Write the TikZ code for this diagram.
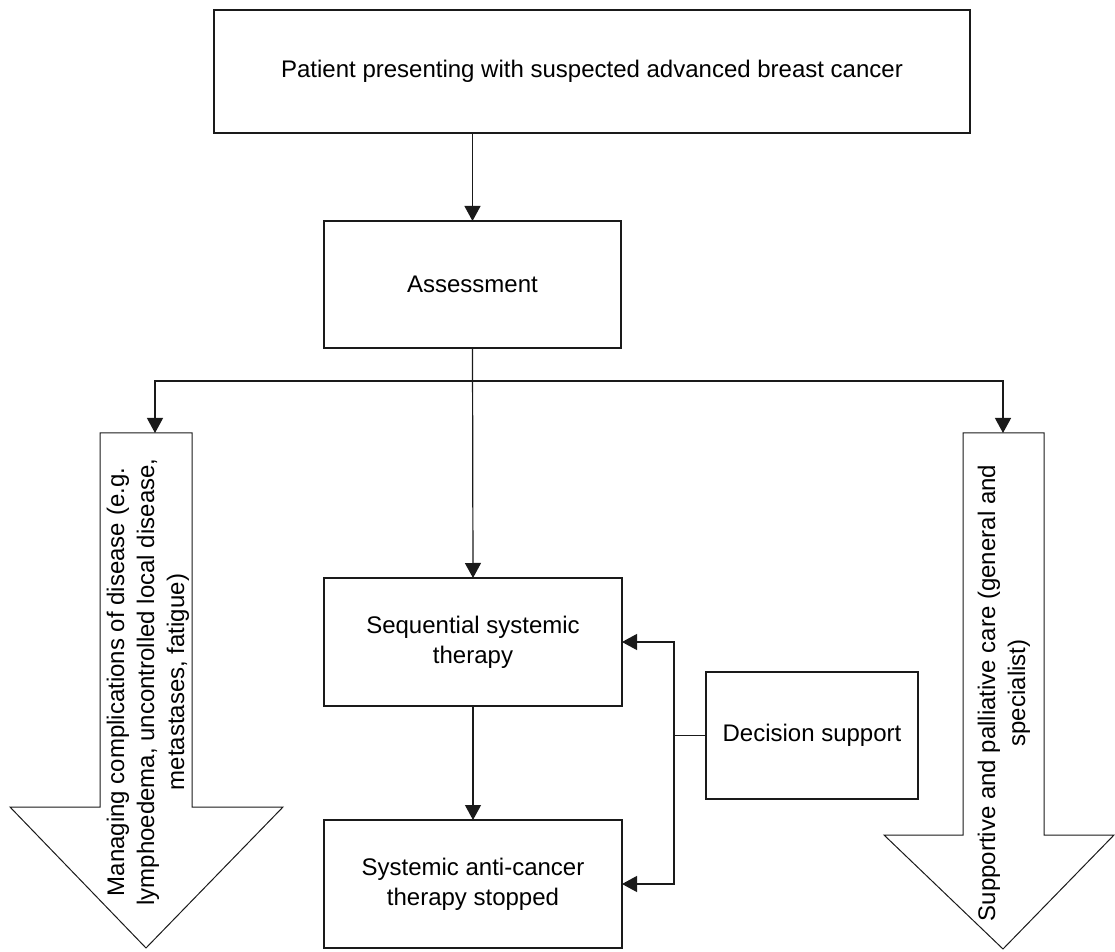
\documentclass[tikz,border=0pt]{standalone}
\usepackage{fontspec}
\setmainfont{Liberation Sans}
\usetikzlibrary{arrows.meta}
\definecolor{FlowInk}{HTML}{1A1A1A}

\begin{document}
\begin{tikzpicture}[x=0.5pt,y=-0.5pt,line width=0.6pt,draw=FlowInk,text=black,
    font=\fontsize{12}{15}\selectfont,
    stagebox/.style={draw,fill=white,inner sep=0pt,outer sep=0pt,align=center},
    flowarrow/.style={-{Triangle[length=7.5pt,width=8pt]}},
    blockarrow/.style={draw,fill=white,line width=0.5pt}]
  \useasboundingbox (0,0) rectangle (1115,952);
  % boxes
  \node[stagebox,minimum width=378pt,minimum height=61.5pt] (patient) at (592,71.5)
    {Patient presenting with suspected advanced breast cancer};
  \node[stagebox,minimum width=148.5pt,minimum height=63.5pt] (assess) at (472.5,284.5)
    {Assessment};
  \node[stagebox,minimum width=149pt,minimum height=64pt] (sequential) at (473,642)
    {Sequential systemic\\therapy};
  \node[stagebox,minimum width=149pt,minimum height=64pt] (stopped) at (473,884)
    {Systemic anti-cancer\\therapy stopped};
  \node[stagebox,minimum width=106pt,minimum height=63.5pt] (decision) at (812,735.5)
    {Decision support};
  % block arrows
  \draw[blockarrow] (100,433) -- (192,433) -- (192,807) -- (283,807) -- (146,948)
    -- (10,807) -- (100,807) -- cycle;
  \draw[blockarrow] (963,433) -- (1044,433) -- (1044,835) -- (1114,835) -- (1003,949)
    -- (884,835) -- (963,835) -- cycle;
  \node[rotate=90,align=center] (complications) at (148,682)
    {Managing complications of disease (e.g.\\lymphoedema, uncontrolled local disease,\\metastases, fatigue)};
  \node[rotate=90,align=center] (palliative) at (1004,693)
    {Supportive and palliative care (general and\\specialist)};
  % connectors
  \coordinate (split) at (472.5,381);
  \coordinate (leftin) at (155,433);
  \coordinate (rightin) at (1003,433);
  \coordinate (fork) at (674,735.5);
  \draw[flowarrow] (assess.north |- patient.south) -- (assess.north);
  \draw[flowarrow] (assess.south) -- (sequential.north);
  \draw[flowarrow] (split) -| (leftin);
  \draw[flowarrow] (split) -| (rightin);
  \draw[flowarrow] (sequential) -- (stopped);
  \draw (decision.west) -- (fork);
  \draw[flowarrow] (fork) |- (sequential.east);
  \draw[flowarrow] (fork) |- (stopped.east);
\end{tikzpicture}
\end{document}
